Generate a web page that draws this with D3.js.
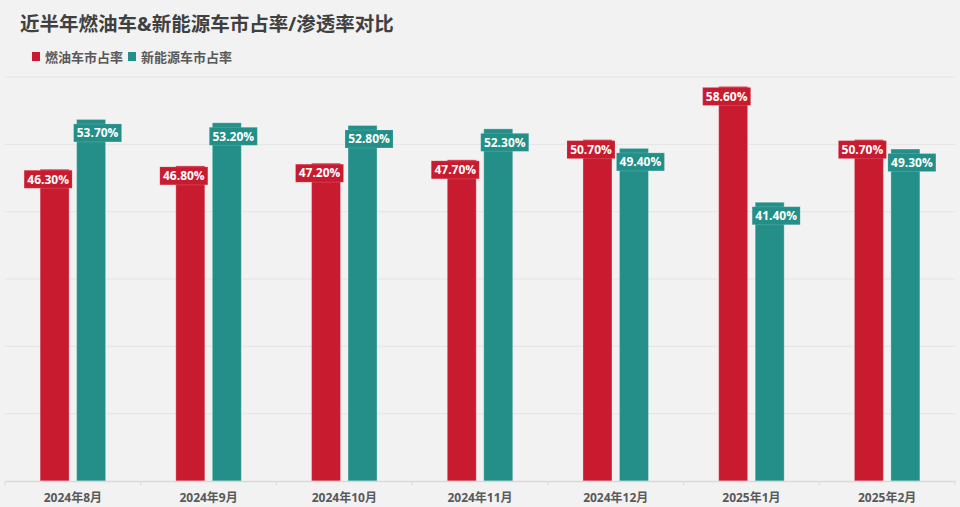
<!DOCTYPE html>
<html>
<head>
<meta charset="utf-8">
<script src="https://cdn.jsdelivr.net/npm/d3@7"></script>
<style>
  html, body { margin: 0; padding: 0; background: #F2F2F2; }
  svg { display: block; }
  text { font-family: "Open Sans", "Noto Sans CJK SC", sans-serif; }
</style>
</head>
<body>
<svg id="chart" width="960" height="507"></svg>
<script>
const categories = ["2024年8月", "2024年9月", "2024年10月", "2024年11月", "2024年12月", "2025年1月", "2025年2月"];
const seriesNames = ["燃油车市占率", "新能源车市占率"];
const fuelShare = [46.3, 46.8, 47.2, 47.7, 50.7, 58.6, 50.7];
const nevShare = [53.7, 53.2, 52.8, 52.3, 49.4, 41.4, 49.3];
const yTicks = [0, 10, 20, 30, 40, 50, 60];
const title = "近半年燃油车&新能源车市占率/渗透率对比";

const colors = ["#C81B30", "#238F88"];
const seriesValues = [fuelShare, nevShare];

const W = 960, H = 507;
const svg = d3.select("#chart");
svg.append("rect").attr("width", W).attr("height", H).attr("fill", "#F2F2F2");

const plot = { left: 5, right: 955, top: 77, bottom: 481 };

const x0 = d3.scaleBand().domain(categories).range([plot.left, plot.right]).paddingInner(0).paddingOuter(0);
const x1 = d3.scaleBand().domain(d3.range(seriesNames.length)).range([-32.75, 32.75]).paddingInner(0.205).paddingOuter(0);
const y = d3.scaleLinear().domain([0, 60]).range([plot.bottom, plot.top]);

// gridlines
svg.append("g")
  .selectAll("line")
  .data(yTicks.filter(t => t > 0))
  .join("line")
  .attr("x1", plot.left).attr("x2", plot.right)
  .attr("y1", d => y(d)).attr("y2", d => y(d))
  .attr("stroke", "#E4E4E4").attr("stroke-width", 1);

// title
svg.append("text")
  .attr("x", 20).attr("y", 31)
  .attr("font-size", 19.5).attr("font-weight", "bold")
  .attr("fill", "#404040")
  .attr("font-family", "'Noto Sans CJK SC', sans-serif")
  .text(title);

// legend
const legend = svg.append("g");
let lx = 32;
seriesNames.forEach((name, i) => {
  legend.append("rect").attr("x", lx).attr("y", 52).attr("width", 8).attr("height", 9).attr("fill", colors[i]);
  const t = legend.append("text")
    .attr("x", lx + 13).attr("y", 62)
    .attr("font-size", 13).attr("font-weight", "bold").attr("fill", "#595959")
    .attr("font-family", "'Noto Sans CJK SC', sans-serif")
    .text(name);
  lx = lx + 13 + t.node().getComputedTextLength() + 5;
});

// bars
const groups = svg.append("g")
  .selectAll("g")
  .data(categories)
  .join("g")
  .attr("transform", d => `translate(${x0(d) + x0.bandwidth() / 2},0)`);

groups.each(function(cat, ci) {
  const g = d3.select(this);
  seriesValues.forEach((vals, si) => {
    const v = vals[ci];
    g.append("rect")
      .attr("x", x1(si)).attr("y", y(v))
      .attr("width", x1.bandwidth()).attr("height", y(0) - y(v))
      .attr("fill", colors[si])
      .attr("stroke", "rgba(255,255,255,0.3)").attr("stroke-width", 1);
  });
});

// axis
const axis = d3.axisBottom(x0).tickSize(0).tickPadding(10);
const axG = svg.append("g").attr("transform", `translate(0,${plot.bottom})`).call(axis);
axG.select(".domain").attr("stroke", "#D9D9D9").attr("stroke-width", 1.5);
axG.selectAll(".tick text")
  .attr("font-size", 12).attr("font-weight", "bold").attr("fill", "#595959")
  .attr("font-family", "'Open Sans', 'Noto Sans CJK SC', sans-serif")
  .attr("dy", "0.95em");
// boundary tick marks
svg.append("g").selectAll("line")
  .data(categories.concat(["__end"]))
  .join("line")
  .attr("x1", (d, i) => plot.left + i * x0.step())
  .attr("x2", (d, i) => plot.left + i * x0.step())
  .attr("y1", plot.bottom).attr("y2", plot.bottom + 4)
  .attr("stroke", "#D9D9D9").attr("stroke-width", 1);

// data labels
const lblW = 48, lblH = 18;
groups.each(function(cat, ci) {
  const g = d3.select(this);
  seriesValues.forEach((vals, si) => {
    const v = vals[ci];
    const cx = x1(si) + x1.bandwidth() / 2 + (si === 0 ? -6.5 : 6.5);
    const top = y(v) + (si === 0 ? 1 : 4.5);
    g.append("rect")
      .attr("x", cx - lblW / 2).attr("y", top)
      .attr("width", lblW).attr("height", lblH)
      .attr("fill", colors[si])
      .attr("stroke", "rgba(255,255,255,0.15)").attr("stroke-width", 1);
    g.append("text")
      .attr("x", cx).attr("y", top + lblH / 2 + 4.3)
      .attr("text-anchor", "middle")
      .attr("font-size", 12).attr("font-weight", "bold").attr("fill", "#FFFFFF")
      .text(v.toFixed(2) + "%");
  });
});
</script>
</body>
</html>
